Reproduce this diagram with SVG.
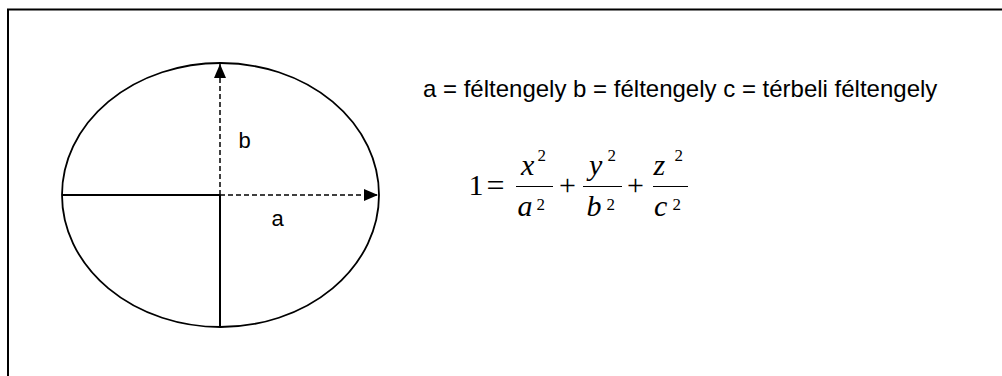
<svg xmlns="http://www.w3.org/2000/svg" width="1002" height="376" viewBox="0 0 1002 376">
<defs>
<style>
.sans{font-family:"Liberation Sans",Arial,sans-serif;fill:#000}
.serif{font-family:"Liberation Serif","Times New Roman",serif;fill:#000}
.it{font-style:italic}
.sup{font-size:17px}
.line{stroke:#000;fill:none}
</style>
<marker id="arr" viewBox="0 0 14 12" refX="14" refY="6" markerWidth="14" markerHeight="12" markerUnits="userSpaceOnUse" orient="auto">
<path d="M0,0 L14,6 L0,12 z" fill="#000"/>
</marker>
</defs>
<rect width="1002" height="376" fill="#fff"/>
<path class="line" d="M8,376 V9.5 H1002" stroke-width="2"/>
<g id="ellipse">
<ellipse class="line" cx="220.5" cy="195" rx="158.5" ry="132" stroke-width="1.8"/>
<line class="line" x1="62" y1="195" x2="220" y2="195" stroke-width="2"/>
<line class="line" x1="220" y1="195" x2="220" y2="327" stroke-width="2"/>
</g>
<g id="connectors">
<line class="line" x1="220" y1="195" x2="220" y2="64" stroke-width="1.5" stroke-dasharray="5,3" marker-end="url(#arr)"/>
<line class="line" x1="220" y1="195" x2="378" y2="195" stroke-width="1.5" stroke-dasharray="5,3" marker-end="url(#arr)"/>
</g>
<g id="label-b"><text class="sans" x="238.5" y="148" font-size="22">b</text></g>
<g id="label-a"><text class="sans" x="271.5" y="226" font-size="22">a</text></g>
<g id="legend"><text class="sans" x="423" y="97" font-size="24">a = féltengely b = féltengely c = térbeli féltengely</text></g>
<g id="equation" class="serif" font-size="30">
<text x="468.5" y="195">1</text>
<text x="486.5" y="196" font-size="32">=</text>
<text class="it" x="521" y="175">x</text><text class="sup" x="537.5" y="161">2</text>
<line class="line" x1="516" y1="186.5" x2="553" y2="186.5" stroke-width="1.2"/>
<text class="it" x="517.5" y="216">a</text><text class="sup" x="536.5" y="209.5">2</text>
<text x="559" y="195">+</text>
<text class="it" x="589" y="175">y</text><text class="sup" x="607.5" y="161">2</text>
<line class="line" x1="583" y1="186.5" x2="622" y2="186.5" stroke-width="1.2"/>
<text class="it" x="586.5" y="216">b</text><text class="sup" x="606.5" y="209.5">2</text>
<text x="627" y="195">+</text>
<text class="it" x="653.5" y="175">z</text><text class="sup" x="674.5" y="161">2</text>
<line class="line" x1="653" y1="186.5" x2="688" y2="186.5" stroke-width="1.2"/>
<text class="it" x="654" y="216">c</text><text class="sup" x="672.5" y="209.5">2</text>
</g>
</svg>
